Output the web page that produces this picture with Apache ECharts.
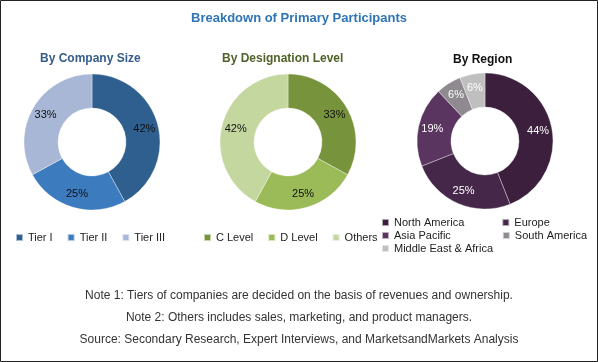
<!DOCTYPE html>
<html><head><meta charset="utf-8">
<script src="https://cdn.jsdelivr.net/npm/echarts@6/dist/echarts.min.js"></script>
<style>html,body{margin:0;padding:0;background:#fff}#c{width:598px;height:362px}</style>
</head><body><div id="c"></div>
<script>
const sizeCats = ['Tier I', 'Tier II', 'Tier III'];
const sizeVals = [42, 25, 33];
const desigCats = ['C Level', 'D Level', 'Others'];
const desigVals = [33, 25, 42];
const regionCats = ['North America', 'Europe', 'Asia Pacific', 'South America', 'Middle East & Africa'];
const regionVals = [44, 25, 19, 6, 6];
const notes = [
  'Note 1: Tiers of companies are decided on the basis of revenues and ownership.',
  'Note 2: Others includes sales, marketing, and product managers.',
  'Source: Secondary Research, Expert Interviews, and MarketsandMarkets Analysis'
];

const sizeColors = ['#2F5F8E', '#3C7BBE', '#A7B7D5'];
const desigColors = ['#77933C', '#9BBB59', '#C4D79F'];
const regionColors = ['#3B1F3C', '#452749', '#5A3560', '#8E8A8F', '#BFBFBF'];

const chart = echarts.init(document.getElementById('c'), null, {renderer: 'canvas'});
const font = '"Liberation Sans", Arial, sans-serif';

function pie(name, cats, vals, colors, center, labelColor) {
  return {
    type: 'pie', name: name, radius: [34, 68], center: center,
    startAngle: 90, clockwise: true, avoidLabelOverlap: false,
    itemStyle: {borderColor: 'rgba(255,255,255,0.6)', borderWidth: 0.6},
    label: {show: true, position: 'inside', formatter: '{c}%', color: labelColor, fontSize: 11, fontFamily: font},
    labelLine: {show: false},
    emphasis: {disabled: true},
    data: cats.map((c, i) => ({name: c, value: vals[i], itemStyle: {color: colors[i]}}))
  };
}

const legendBase = {icon: 'rect', itemWidth: 7, itemHeight: 7, itemGap: 14, padding: 0,
  textStyle: {fontSize: 11, color: '#222', fontFamily: font}};

const option = {
  backgroundColor: '#fff',
  animation: false,
  title: [
    {text: 'Breakdown of Primary Participants', left: 'center', top: 7,
     textStyle: {fontSize: 13, fontWeight: 'bold', color: '#2E75B6', fontFamily: font}},
    {text: 'By Company Size', left: 35, top: 48,
     textStyle: {fontSize: 12, fontWeight: 'bold', color: '#355C8C', fontFamily: font}},
    {text: 'By Designation Level', left: 217, top: 48,
     textStyle: {fontSize: 12, fontWeight: 'bold', color: '#4F6228', fontFamily: font}},
    {text: 'By Region', left: 448, top: 49,
     textStyle: {fontSize: 12, fontWeight: 'bold', color: '#111', fontFamily: font}}
  ],
  legend: [
    Object.assign({}, legendBase, {data: sizeCats, left: 15, top: 232}),
    Object.assign({}, legendBase, {data: desigCats, left: 203, top: 232}),
    Object.assign({}, legendBase, {data: [regionCats[0], regionCats[1]], left: 381, top: 217, itemGap: 37}),
    Object.assign({}, legendBase, {data: [regionCats[2], regionCats[3]], left: 381, top: 230, itemGap: 51}),
    Object.assign({}, legendBase, {data: [regionCats[4]], left: 381, top: 243})
  ],
  graphic: [
    {type: 'rect', shape: {x: 0.5, y: 0.5, width: 597, height: 361},
     style: {fill: 'none', stroke: '#222', lineWidth: 1}, silent: true}
  ].concat(notes.map((t, i) => ({
    type: 'text', left: 'center', top: 290 + i * 22,
    style: {text: t, font: '12px ' + font, fill: '#333'}
  }))),
  series: [
    pie('size', sizeCats, sizeVals, sizeColors, [92, 142], '#111'),
    pie('desig', desigCats, desigVals, desigColors, [288, 142], '#111'),
    pie('region', regionCats, regionVals, regionColors, [485, 141], '#fff')
  ]
};
chart.setOption(option);
</script></body></html>
